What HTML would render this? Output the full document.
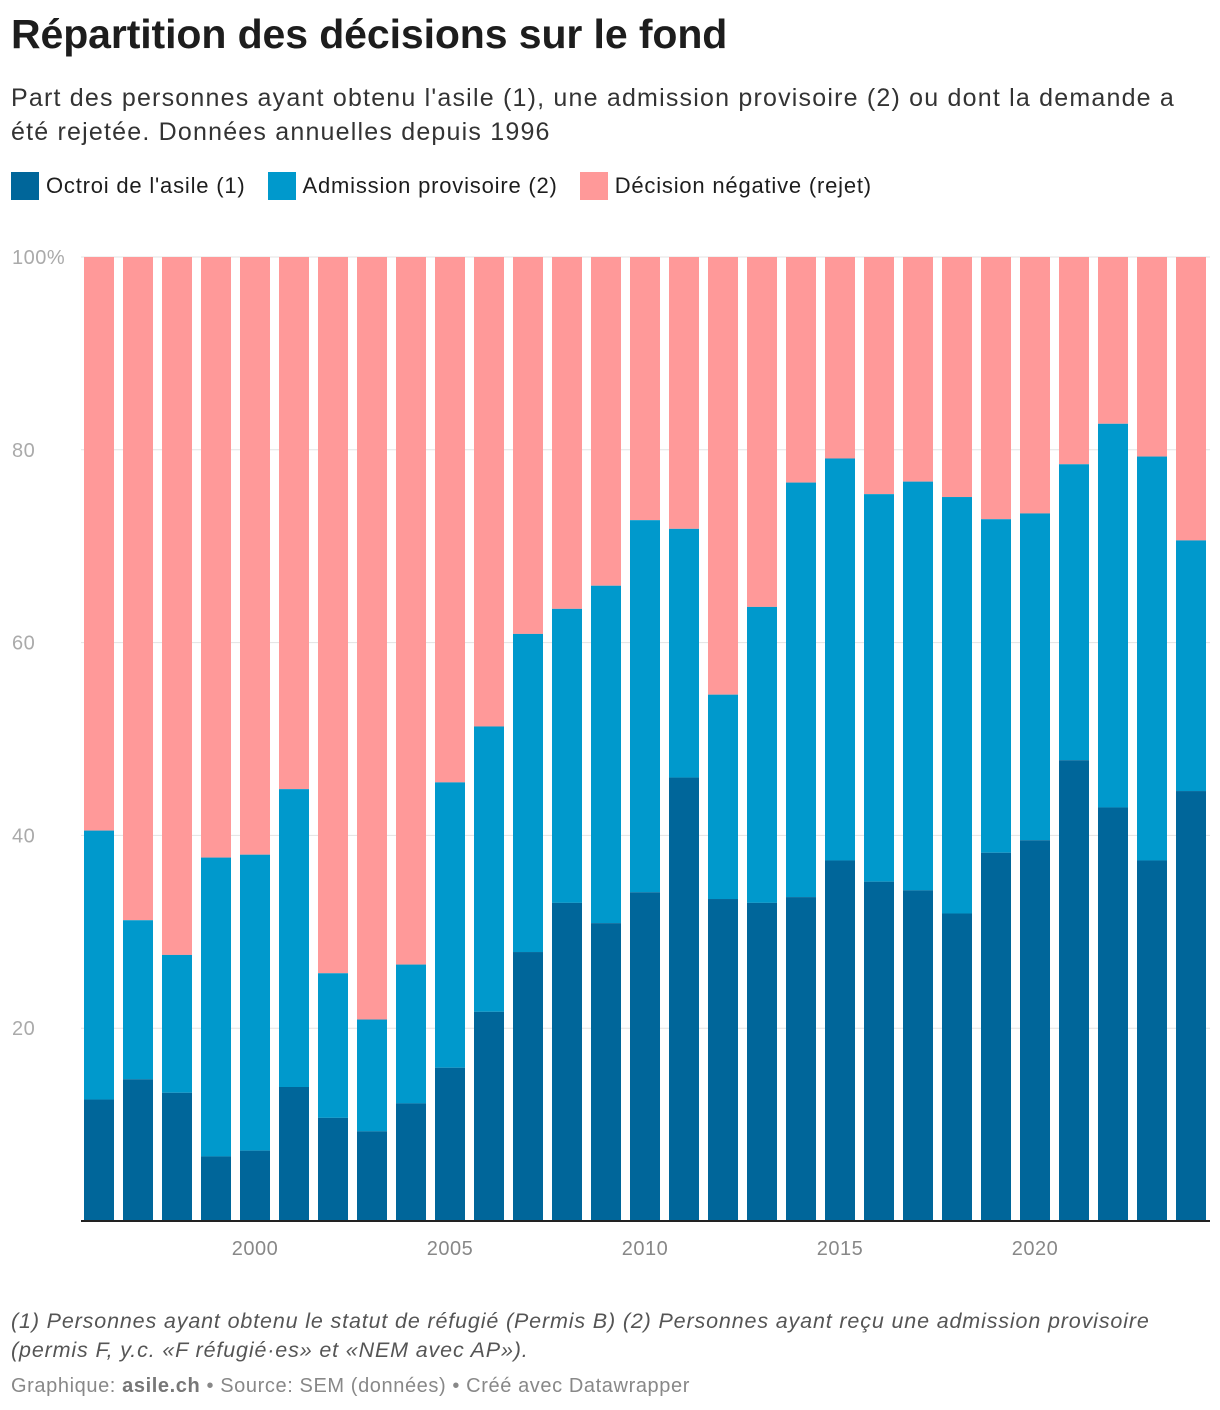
<!DOCTYPE html>
<html><head><meta charset="utf-8">
<style>
body{margin:0;background:#fff;font-family:"Liberation Sans",sans-serif;color:#1d1d1d;width:1220px;height:1410px;overflow:hidden;position:relative}
h1{position:absolute;left:11px;top:11px;margin:0;font-size:41px;font-weight:bold;letter-spacing:-0.1px}
.sub{position:absolute;left:11px;top:81px;width:1210px;font-size:25px;line-height:34px;color:#333;letter-spacing:1.2px}
.legend{position:absolute;left:11px;top:172px;font-size:22px;display:flex;letter-spacing:0.8px}
.li{display:flex;align-items:center;margin-right:22px}
.sw{width:28px;height:28px;margin-right:7px}
.notes{position:absolute;left:11px;top:1307px;width:1210px;font-size:21.5px;line-height:29px;font-style:italic;color:#555;letter-spacing:0.85px}
.credit{position:absolute;left:11px;top:1375px;font-size:20px;color:#888;letter-spacing:0.6px}
</style></head><body>
<h1>Répartition des décisions sur le fond</h1>
<div class="sub">Part des personnes ayant obtenu l'asile (1), une admission provisoire (2) ou dont la demande a<br>été rejetée. Données annuelles depuis 1996</div>
<div class="legend">
<div class="li"><div class="sw" style="background:#00669a"></div>Octroi de l'asile (1)</div>
<div class="li"><div class="sw" style="background:#0099cc"></div>Admission provisoire (2)</div>
<div class="li"><div class="sw" style="background:#ff9999"></div>Décision négative (rejet)</div>
</div>
<svg id="chart" width="1220" height="1300" style="position:absolute;left:0;top:0"></svg>
<div class="notes">(1) Personnes ayant obtenu le statut de réfugié (Permis B) (2) Personnes ayant reçu une admission provisoire<br>(permis F, y.c. «F réfugié·es» et «NEM avec AP»).</div>
<div class="credit">Graphique: <b style="color:#777">asile.ch</b> • Source: SEM (données) • Créé avec Datawrapper</div>
<script>
const years=[1996,1997,1998,1999,2000,2001,2002,2003,2004,2005,2006,2007,2008,2009,2010,2011,2012,2013,2014,2015,2016,2017,2018,2019,2020,2021,2022,2023,2024];
const asylum=[12.6,14.7,13.3,6.7,7.3,13.9,10.7,9.3,12.2,15.9,21.7,27.9,33.0,30.9,34.1,46.0,33.4,33.0,33.6,37.4,35.2,34.3,31.9,38.2,39.5,47.8,42.9,37.4,44.6];
const cumulative=[40.5,31.2,27.6,37.7,38.0,44.8,25.7,20.9,26.6,45.5,51.3,60.9,63.5,65.9,72.7,71.8,54.6,63.7,76.6,79.1,75.4,76.7,75.1,72.8,73.4,78.5,82.7,79.3,70.6];
const yTicks=[20,40,60,80,100];
const xTicks=[2000,2005,2010,2015,2020];
const svg=document.getElementById('chart');const NS='http://www.w3.org/2000/svg';
const y0=1221,y100=257,x0=84,step=39,bw=30;
const yS=v=>y0-(y0-y100)*v/100;
const xS=yr=>x0+(yr-years[0])*step;
function mk(t,a){const e=document.createElementNS(NS,t);for(const k in a)e.setAttribute(k,a[k]);svg.appendChild(e);return e;}
yTicks.forEach(t=>{
 const l=mk('line',{x1:81,x2:1210,y1:yS(t),y2:yS(t),stroke:'#e3e3e3','stroke-width':1});
 
 
 const tx=mk('text',{x:12,y:yS(t)+7,'font-size':20,fill:'#aaa','font-family':'Liberation Sans, sans-serif','letter-spacing':'0.5'});
 tx.textContent=t===100?'100%':t;
 
 
});
years.forEach((yr,i)=>{
 const x=xS(yr);
 const r1=mk('rect',{x:x,y:yS(100),width:bw,height:yS(cumulative[i])-yS(100),fill:'#ff9999'});
 
 
 const r2=mk('rect',{x:x,y:yS(cumulative[i]),width:bw,height:yS(asylum[i])-yS(cumulative[i]),fill:'#0099cc'});
 
 
 const r3=mk('rect',{x:x,y:yS(asylum[i]),width:bw,height:y0-yS(asylum[i]),fill:'#00669a'});
 
 
});
const base=mk('line',{x1:81,x2:1210,y1:y0,y2:y0,stroke:'#222','stroke-width':2});


xTicks.forEach(t=>{
 const tx=mk('text',{x:xS(t)+bw/2,y:1255,'font-size':20,fill:'#888','text-anchor':'middle','font-family':'Liberation Sans, sans-serif','letter-spacing':'0.5'});
 tx.textContent=t;
 
 
});
</script>
</body></html>
